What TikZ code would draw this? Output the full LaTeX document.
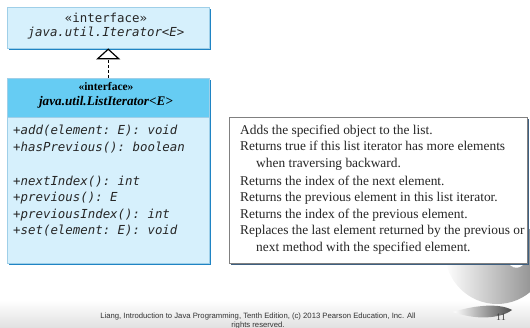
\documentclass[tikz,border=0pt]{standalone}
\usepackage{fontspec}
\setmainfont{Liberation Serif}
\setsansfont{Liberation Sans}
\setmonofont{DejaVu Sans Mono}
\usetikzlibrary{arrows.meta,shadings}
\definecolor{lightb}{HTML}{D6F0FC}
\definecolor{headb}{HTML}{66CCF3}
\definecolor{shadb}{HTML}{1F84C4}
\definecolor{bordb}{HTML}{9FCFE8}
\definecolor{descsh}{HTML}{3E5F80}
\tikzset{
  umlbox/.style={anchor=north west, inner sep=0pt, draw=bordb, line width=0.4pt},
  shadowbox/.style={anchor=north west, inner sep=0pt, fill=shadb},
  monotxt/.style={font=\ttfamily\fontsize{12.4}{14}\selectfont, inner sep=0pt, anchor=base west, text=black!85},
  monoc/.style={font=\ttfamily\fontsize{12.4}{14}\selectfont, inner sep=0pt, anchor=base, text=black!85},
  hdrtxt/.style={font=\rmfamily\bfseries\fontsize{13.2}{14}\selectfont, inner sep=0pt, anchor=base},
  desctxt/.style={font=\rmfamily\fontsize{13.4}{15}\selectfont, inner sep=0pt, anchor=base west, text=black!85},
  foot/.style={font=\sffamily\fontsize{7.7}{9}\selectfont, inner sep=0pt, anchor=base, text=black!80},
}
\begin{document}
\begin{tikzpicture}[x=1pt,y=-1pt]
\useasboundingbox (0,0) rectangle (530,328);
% bottom band
\shade[top color=white, bottom color=black!12] (0,300) rectangle (530,328);
% globe decoration
\begin{scope}
\clip (400,230) rectangle (530,304);
\shade[left color=white, right color=black!50] (497,252) circle (52);
\fill[white] (505,258) .. controls (512,254) and (522,252) .. (528,258) .. controls (522,270) and (512,272) .. (505,258);
\end{scope}
\shade[left color=white, right color=black!70] (453,312) .. controls (475,305) and (500,303) .. (512,310) .. controls (500,319) and (475,320) .. (453,312);
% Iterator box
\node[shadowbox, minimum width=202pt, minimum height=41pt] (itersh) at (9,9) {};
\node[umlbox, fill=lightb, minimum width=202pt, minimum height=41pt] (iter) at (7,7) {};
\node[monoc] (iterst) at (106,23) {«interface»};
\node[monoc] (itername) at (106,37) {\itshape java.util.Iterator<E>};
% ListIterator box
\node[shadowbox, minimum width=202pt, minimum height=185pt] (listsh) at (9,80) {};
\node[umlbox, fill=lightb, minimum width=202pt, minimum height=185pt] (list) at (7,78) {};
\node[anchor=north west, inner sep=0pt, fill=headb, draw=bordb, line width=0.4pt, minimum width=202pt, minimum height=39pt] (listhdr) at (7,78) {};
\node[hdrtxt, font=\rmfamily\bfseries\fontsize{11.5}{13}\selectfont] (listst) at (106,91) {«interface»};
\node[hdrtxt] (listname) at (106,106) {\itshape java.util.ListIterator<E>};
\node[monotxt] (m1) at (13,135) {\itshape +add(element: E): void};
\node[monotxt] (m2) at (13,152) {\itshape +hasPrevious(): boolean};
\node[monotxt] (m3) at (13,186) {\itshape +nextIndex(): int};
\node[monotxt] (m4) at (13,202) {\itshape +previous(): E};
\node[monotxt] (m5) at (13,219) {\itshape +previousIndex(): int};
\node[monotxt] (m6) at (13,235) {\itshape +set(element: E): void};
% inheritance arrow
\draw[dashed, dash pattern=on 3pt off 2pt, line width=1.2pt, -{Triangle[open, width=24pt, length=11pt, line width=1.2pt]}] (listhdr.north) -- (iter.south);
% description box
\node[anchor=north west, inner sep=0pt, fill=descsh, minimum width=298pt, minimum height=146pt] (descsh) at (231,119) {};
\node[anchor=north west, inner sep=0pt, fill=white, draw=black!50, line width=0.6pt, minimum width=298pt, minimum height=146pt] (desc) at (229,117) {};
\node[desctxt] (d1) at (240,135) {Adds the specified object to the list.};
\node[desctxt] (d2) at (240,151) {Returns true if this list iterator has more elements};
\node[desctxt] (d3) at (256,168) {when traversing backward.};
\node[desctxt] (d4) at (240,186) {Returns the index of the next element.};
\node[desctxt] (d5) at (240,202) {Returns the previous element in this list iterator.};
\node[desctxt] (d6) at (240,219) {Returns the index of the previous element.};
\node[desctxt] (d7) at (240,235) {Replaces the last element returned by the previous or};
\node[desctxt] (d8) at (256,252) {next method with the specified element.};
% footer
\node[foot] (f1) at (258,319) {Liang, Introduction to Java Programming, Tenth Edition, (c) 2013 Pearson Education, Inc. All};
\node[foot] (f2) at (258,327.5) {rights reserved.};
\node[font=\rmfamily\fontsize{10}{11}\selectfont, inner sep=0pt, anchor=base, text=black!75] (pg) at (501,321) {11};
\end{tikzpicture}
\end{document}
